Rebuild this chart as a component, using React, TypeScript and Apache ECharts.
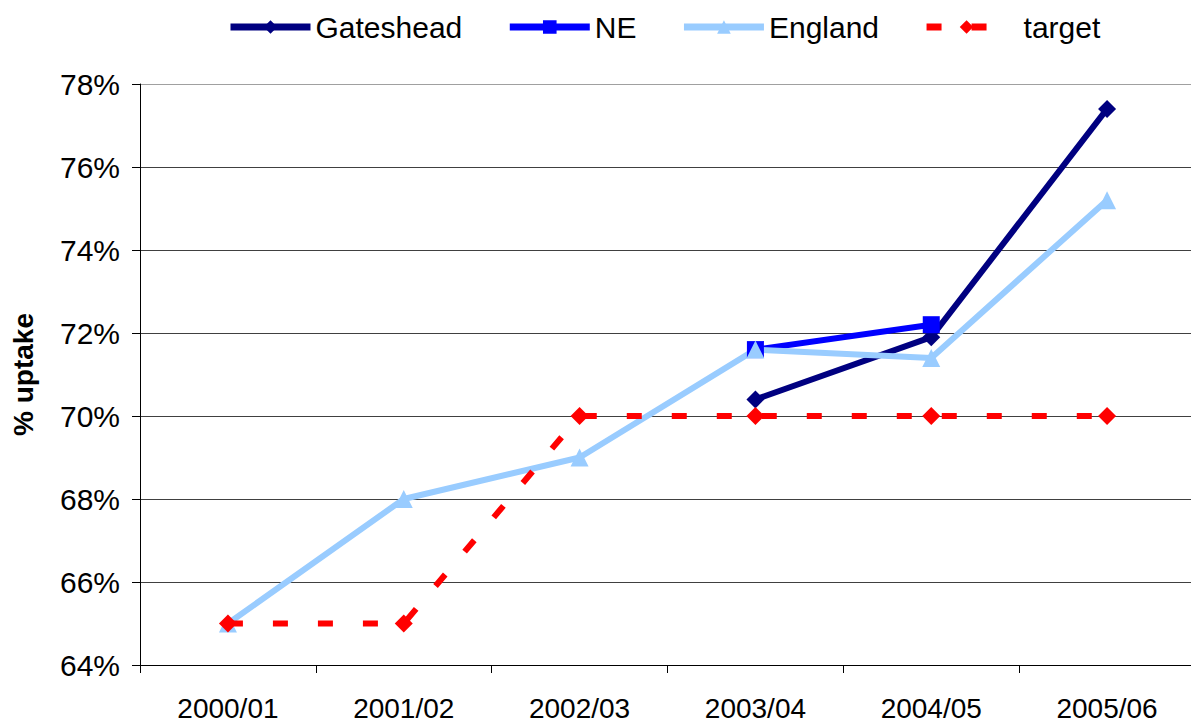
import React, { useEffect, useRef } from "react";
import * as echarts from "echarts";

const categories = ["2000/01", "2001/02", "2002/03", "2003/04", "2004/05", "2005/06"];
const gateshead = ["-", "-", "-", 70.4, 71.9, 77.4];
const ne = ["-", "-", "-", 71.6, 72.2, "-"];
const england = [65, 68, 69, 71.6, 71.4, 75.2];
const target = [65, 65, 70, 70, 70, 70];

const FONT = "'Liberation Sans', Arial, sans-serif";

export default function App() {
  const ref = useRef<HTMLDivElement>(null);
  useEffect(() => {
    document.body.style.margin = "0";
    const chart = echarts.init(ref.current!, null, { renderer: "svg" });
    const lineSeries = (name: string, data: any[], color: string, symbol: string, size: number, extra: any = {}) => ({
      name,
      type: "line",
      data,
      symbol,
      symbolSize: size,
      showSymbol: true,
      connectNulls: false,
      lineStyle: { color, width: 6, ...(extra.lineStyle || {}) },
      itemStyle: { color },
      emphasis: { disabled: true },
    });
    chart.setOption({
      animation: false,
      textStyle: { fontFamily: FONT },
      legend: {
        top: 7,
        left: 222,
        itemWidth: 80,
        itemHeight: 17,
        itemGap: 44,
        lineStyle: { width: 7 },
        textStyle: { fontSize: 30, color: "#000", fontFamily: FONT },
        data: ["Gateshead", "NE", "England", { name: "target", textStyle: { padding: [0, 0, 0, 12] } }],
      },
      grid: { left: 140, right: -4, top: 84, bottom: 57, outerBoundsMode: "none", containLabel: false },
      xAxis: {
        type: "category",
        data: categories,
        boundaryGap: true,
        axisLine: { lineStyle: { color: "#000", width: 1 } },
        axisTick: { show: true, length: 8, alignWithLabel: false, lineStyle: { color: "#000" } },
        axisLabel: { color: "#000", fontSize: 28, lineHeight: 24, margin: 31, fontFamily: FONT },
        splitLine: { show: false },
      },
      yAxis: {
        type: "value",
        min: 64,
        max: 78,
        interval: 2,
        name: "% uptake",
        nameLocation: "middle",
        nameGap: 103,
        nameRotate: 90,
        nameTextStyle: { fontSize: 28, fontWeight: "bold", color: "#000", fontFamily: FONT },
        axisLine: { show: true, lineStyle: { color: "#000", width: 1 } },
        axisTick: { show: true, length: 8, lineStyle: { color: "#000" } },
        axisLabel: { color: "#000", fontSize: 30, margin: 20, formatter: "{value}%", fontFamily: FONT },
        splitLine: {
          show: true,
          lineStyle: {
            width: 1,
            color: ["#404040", "#404040", "#404040", "#404040", "#404040", "#404040", "#404040", "#a0a0a0"],
          },
        },
      },
      series: [
        lineSeries("Gateshead", gateshead, "#000080", "diamond", 18),
        lineSeries("NE", ne, "#0000ff", "rect", 17),
        lineSeries("England", england, "#99ccff", "triangle", 18),
        lineSeries("target", target, "#ff0000", "diamond", 18, { lineStyle: { type: [15, 30] } }),
      ],
    });
    return () => chart.dispose();
  }, []);
  return <div ref={ref} style={{ width: 1191, height: 722 }} />;
}
